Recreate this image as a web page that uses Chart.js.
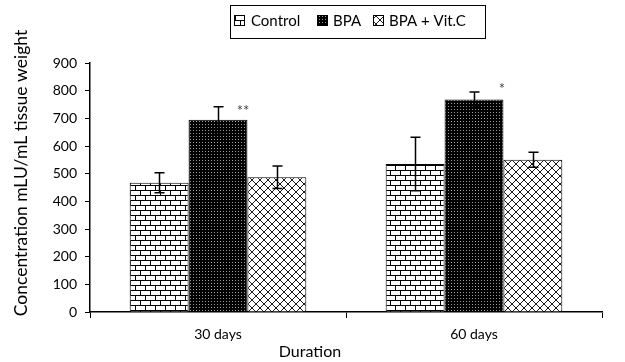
<!DOCTYPE html>
<html><head><meta charset="utf-8">
<script src="https://cdn.jsdelivr.net/npm/chart.js@4/dist/chart.umd.min.js"></script>
<style>html,body{margin:0;padding:0;background:#fff}#wrap{width:625px;height:362px}</style>
</head><body><div id="wrap"><canvas id="c" width="625" height="362"></canvas></div>
<script>
const categories = ['30 days', '60 days'];
const seriesNames = ['Control', 'BPA', 'BPA + Vit.C'];
const controlValues = [467, 535];
const bpaValues = [695, 768];
const vitcValues = [487, 550];
const controlErrors = [36, 97];
const bpaErrors = [47, 27];
const vitcErrors = [41, 27];
const significance = ['**', '*']; // marks over BPA bars
const yTicks = [0,100,200,300,400,500,600,700,800,900];

const FONT = 'Lato, "Open Sans", sans-serif';

function mkPattern(kind) {
  const c = document.createElement('canvas');
  const x = c.getContext('2d');
  if (kind === 'brick') {
    c.width = 10; c.height = 10;
    x.fillStyle = '#fff'; x.fillRect(0,0,10,10);
    x.fillStyle = '#000';
    x.fillRect(0,0,10,1); x.fillRect(0,5,10,1);
    x.fillRect(0,0,1,5); x.fillRect(5,5,1,5);
  } else if (kind === 'dots') {
    c.width = 3; c.height = 3;
    x.fillStyle = '#000'; x.fillRect(0,0,3,3);
    x.fillStyle = '#9a9a9a'; x.fillRect(1,1,1,1);
  } else {
    c.width = 8; c.height = 8;
    x.fillStyle = '#fff'; x.fillRect(0,0,8,8);
    x.strokeStyle = '#000'; x.lineWidth = 0.9;
    x.beginPath();
    x.moveTo(0,0); x.lineTo(8,8);
    x.moveTo(8,0); x.lineTo(0,8);
    x.stroke();
  }
  return x.createPattern(c, 'repeat');
}
const ctx0 = document.getElementById('c').getContext('2d');
const patterns = [mkPattern('brick'), mkPattern('dots'), mkPattern('cross')];
const errs = [controlErrors, bpaErrors, vitcErrors];

const overlay = {
  id: 'overlay',
  afterDatasetsDraw(chart) {
    const ctx = chart.ctx;
    const y = chart.scales.y;
    ctx.save();
    ctx.strokeStyle = '#000'; ctx.lineWidth = 1.5;
    chart.data.datasets.forEach((ds, di) => {
      const meta = chart.getDatasetMeta(di);
      meta.data.forEach((bar, i) => {
        const v = ds.data[i], e = errs[di][i];
        const x = Math.round(bar.x) + 0.5;
        const yt = y.getPixelForValue(v + e), yb = y.getPixelForValue(v - e);
        ctx.beginPath();
        ctx.moveTo(x, yt); ctx.lineTo(x, yb);
        ctx.moveTo(x - 5, yt); ctx.lineTo(x + 5, yt);
        ctx.moveTo(x - 5, yb); ctx.lineTo(x + 5, yb);
        ctx.stroke();
      });
    });
    // significance marks
    const bm = chart.getDatasetMeta(1);
    ctx.fillStyle = '#444';
    ctx.font = '15px ' + FONT;
    ctx.textAlign = 'center'; ctx.textBaseline = 'middle';
    bm.data.forEach((bar, i) => {
      const v = bpaValues[i] + bpaErrors[i];
      const yy = y.getPixelForValue(v);
      ctx.fillText(significance[i], bar.x + (i === 0 ? 25 : 28), yy + (i === 0 ? 4 : -3));
    });
    ctx.restore();
  },
  afterDraw(chart) {
    const ctx = chart.ctx;
    ctx.save();
    // legend box
    ctx.strokeStyle = '#000'; ctx.lineWidth = 1;
    ctx.strokeRect(230.5, 5.5, 255, 33);
    ctx.font = '15px ' + FONT;
    ctx.textBaseline = 'middle'; ctx.textAlign = 'left';
    const sq = [234, 317, 373];
    const tx = [251, 333, 389];
    seriesNames.forEach((n, i) => {
      ctx.fillStyle = patterns[i];
      ctx.fillRect(sq[i], 15, 11, 11);
      ctx.strokeStyle = '#000';
      ctx.strokeRect(sq[i] + 0.5, 15.5, 10, 10);
      ctx.fillStyle = '#000';
      ctx.fillText(n, tx[i], 21);
    });
    // x axis title
    ctx.font = '16px ' + FONT;
    ctx.textAlign = 'center';
    ctx.fillText('Duration', 310, 352);
    // y axis title
    ctx.translate(21, 173);
    ctx.rotate(-Math.PI / 2);
    ctx.font = '17.5px ' + FONT;
    ctx.fillText('Concentration mLU/mL tissue weight', 0, 0);
    ctx.restore();
  }
};

new Chart(ctx0, {
  type: 'bar',
  data: {
    labels: categories,
    datasets: [
      { label: seriesNames[0], data: controlValues, backgroundColor: patterns[0] },
      { label: seriesNames[1], data: bpaValues, backgroundColor: patterns[1] },
      { label: seriesNames[2], data: vitcValues, backgroundColor: patterns[2] }
    ].map(d => Object.assign(d, { borderColor: '#000', borderWidth: 1, categoryPercentage: 0.69, barPercentage: 1.0 }))
  },
  options: {
    responsive: false,
    animation: false,
    layout: { padding: { left: 0, right: 23, top: 63, bottom: 0 } },
    plugins: { legend: { display: false }, tooltip: { enabled: false } },
    scales: {
      x: {
        offset: true,
        grid: { display: true, offset: true, drawOnChartArea: false, drawTicks: true, tickLength: 6, color: '#000', lineWidth: 1 },
        border: { display: true, color: '#000', width: 1.5 },
        ticks: { color: '#000', font: { family: FONT, size: 14 }, padding: 8 },
        afterFit(s) { s.height = 50; }
      },
      y: {
        min: 0, max: 900,
        afterBuildTicks(s) { s.ticks = yTicks.map(v => ({ value: v })); },
        grid: { display: true, drawOnChartArea: false, drawTicks: true, tickLength: 5, color: '#000', lineWidth: 1 },
        border: { display: true, color: '#000', width: 1.5 },
        ticks: { color: '#000', font: { family: FONT, size: 14 }, padding: 8 },
        afterFit(s) { s.width = 90; }
      }
    }
  },
  plugins: [overlay]
});
</script></body></html>
